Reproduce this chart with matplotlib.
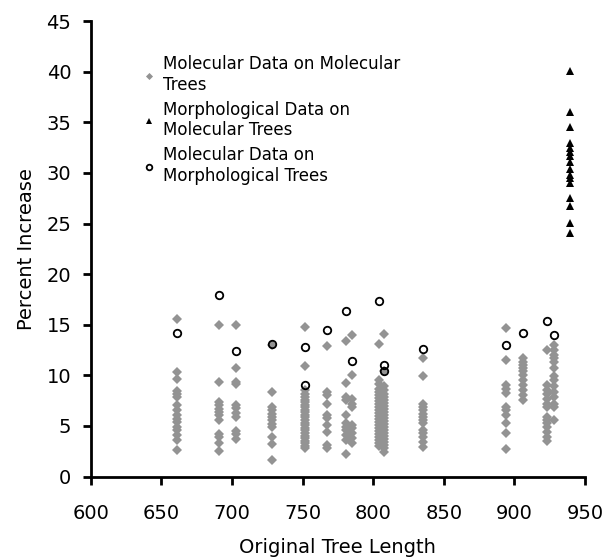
import matplotlib
matplotlib.use("Agg")
import matplotlib.pyplot as plt

plt.rcParams['font.family'] = ['DejaVu Sans']

# Molecular data on molecular trees: (tree length, list of percent increases)
mol_mol = {
    661: [15.6, 10.3, 9.6, 8.5, 8.2, 7.9, 7.1, 6.6, 6.1, 5.7, 5.4, 4.9, 4.6, 4.1, 3.6, 2.6],
    691: [15.0, 9.3, 7.4, 7.1, 6.7, 6.4, 6.1, 5.6, 4.2, 3.9, 3.35, 2.5],
    703: [15.0, 10.75, 9.3, 9.1, 7.1, 6.75, 6.25, 5.9, 4.5, 4.2, 3.7],
    728: [13.0, 8.4, 6.9, 6.6, 6.2, 5.9, 5.6, 5.2, 4.9, 3.9, 3.2, 1.6],
    752: [14.8, 10.9, 8.55, 8.2, 7.9, 7.6, 7.4, 7.1, 6.9, 6.6, 6.4, 6.1, 5.9, 5.6,
          5.3, 5.1, 4.8, 4.6, 4.3, 4.0, 3.8, 3.5, 3.3, 3.0, 2.8],
    767: [12.9, 8.4, 8.05, 7.2, 6.1, 5.75, 5.1, 4.4, 3.1, 2.8],
    781: [13.4, 9.2, 7.9, 7.6, 6.1, 5.3, 4.9, 4.6, 4.1, 3.6, 2.2],
    785: [14.0, 10.0, 7.7, 7.2, 6.9, 5.1, 4.8, 4.3, 3.8, 3.35],
    804: [13.1, 9.5, 9.1, 8.7, 8.4, 8.1, 7.8, 7.5, 7.2, 6.9, 6.6, 6.3, 6.0, 5.7, 5.4,
          5.1, 4.8, 4.5, 4.2, 3.9, 3.6, 3.3, 3.0],
    808: [14.1, 10.4, 8.9, 8.6, 8.2, 7.9, 7.6, 7.3, 7.0, 6.7, 6.4, 6.1, 5.8, 5.5, 5.2,
          4.9, 4.6, 4.3, 4.0, 3.7, 3.4, 3.1, 2.8, 2.45],
    835: [11.7, 9.9, 7.2, 6.9, 6.6, 6.2, 5.9, 5.6, 5.3, 4.6, 4.3, 3.9, 3.4, 2.9],
    894: [14.7, 11.5, 9.0, 8.7, 8.3, 6.9, 6.6, 6.1, 5.3, 4.3, 2.75],
    906: [11.7, 11.35, 11.0, 10.7, 10.4, 10.0, 9.5, 9.0, 8.55, 8.05, 7.6],
    923: [12.5, 9.0, 8.6, 8.2, 7.7, 7.2, 6.9, 5.9, 5.6, 5.3, 4.9, 4.4, 3.9, 3.5],
    928: [13.0, 12.5, 12.0, 11.7, 11.35, 10.7, 9.9, 9.5, 8.9, 8.4, 7.9, 7.2, 6.9, 5.6],
}

# Morphological data on molecular trees
morph_x = 939
morph_y = [40.1, 36.0, 34.5, 33.0, 32.5, 32.1, 31.7, 31.1, 30.35, 29.8, 29.5,
           29.0, 27.5, 26.7, 25.1, 24.1]

# Molecular data on morphological trees
molmorph_x = [661, 691, 703, 728, 752, 752, 767, 781, 785, 804, 808, 808, 835,
              894, 906, 923, 928]
molmorph_y = [14.2, 17.9, 12.4, 13.1, 12.8, 9.0, 14.5, 16.35, 11.4, 17.3, 11.0, 10.4,
              12.6, 13.0, 14.15, 15.4, 14.0]

x_ticks = [600, 650, 700, 750, 800, 850, 900, 950]
y_ticks = [0, 5, 10, 15, 20, 25, 30, 35, 40, 45]

fig = plt.figure(figsize=(6.05, 5.58), dpi=100)
ax = fig.add_axes([0.15, 0.146, 0.817, 0.816])

mx, my = [], []
for k, vals in mol_mol.items():
    mx.extend([k] * len(vals))
    my.extend(vals)

ax.plot(mx, my, linestyle='none', marker='D', markersize=4.8, color='#939393',
        markeredgewidth=0, label='Molecular Data on Molecular\nTrees', zorder=3)
ax.plot([morph_x] * len(morph_y), morph_y, linestyle='none', marker='^', markersize=5.6,
        color='black', markeredgewidth=0, label='Morphological Data on\nMolecular Trees', zorder=4)
ax.plot(molmorph_x, molmorph_y, linestyle='none', marker='o', markersize=5.4,
        markerfacecolor='none', markeredgecolor='black', markeredgewidth=1.3,
        label='Molecular Data on\nMorphological Trees', zorder=5)

ax.set_xlim(600, 950)
ax.set_ylim(0, 45)
ax.set_xticks(x_ticks)
ax.set_yticks(y_ticks)
ax.tick_params(axis='both', direction='out', length=6, width=2, labelsize=14)
ax.tick_params(axis='x', pad=14)
ax.tick_params(axis='y', pad=8)

for s in ['top', 'right']:
    ax.spines[s].set_visible(False)
for s in ['left', 'bottom']:
    ax.spines[s].set_linewidth(2)

ax.set_xlabel('Original Tree Length', fontsize=14, fontweight='medium')
ax.set_ylabel('Percent Increase', fontsize=14, fontweight='medium')
ax.xaxis.set_label_coords(0.5, -0.135)
ax.yaxis.set_label_coords(-0.111, 0.5)

leg = ax.legend(loc='upper left', bbox_to_anchor=(0.225, 0.913), bbox_transform=fig.transFigure,
                frameon=False, fontsize=12, handlelength=0.8, handletextpad=0.4,
                labelspacing=0.4, borderaxespad=0, markerscale=0.75)

fig.savefig('out.png', dpi=100)
